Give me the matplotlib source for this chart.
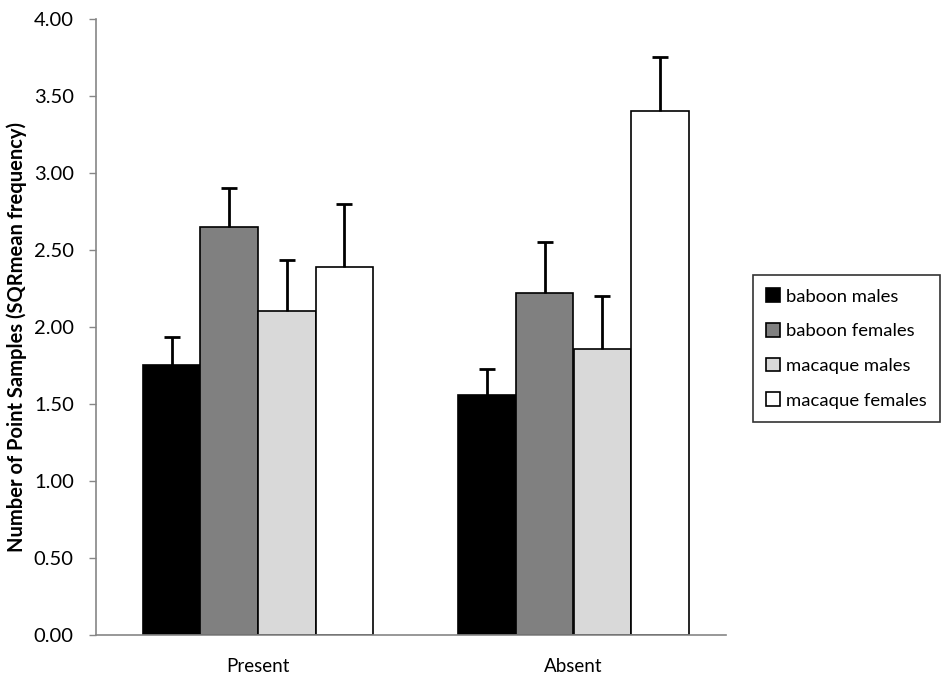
import matplotlib
matplotlib.use("Agg")
import matplotlib.pyplot as plt
import numpy as np

categories = ["Present", "Absent"]
series_names = ["baboon males", "baboon females", "macaque males", "macaque females"]
means = {
    "baboon males":    [1.753, 1.558],
    "baboon females":  [2.647, 2.219],
    "macaque males":   [2.106, 1.857],
    "macaque females": [2.392, 3.403],
}
errors = {
    "baboon males":    [0.183, 0.170],
    "baboon females":  [0.258, 0.331],
    "macaque males":   [0.329, 0.342],
    "macaque females": [0.407, 0.355],
}
colors = ["#000000", "#808080", "#d9d9d9", "#ffffff"]
yticks = [0.0, 0.5, 1.0, 1.5, 2.0, 2.5, 3.0, 3.5, 4.0]

plt.rcParams['font.family'] = ['Lato', 'DejaVu Sans']

fig = plt.figure(figsize=(9.48, 6.86), dpi=100)
ax = fig.add_axes([96/948, 0.075, 630/948, 0.8969])

x = np.arange(len(categories))
bw = 0.1823
for i, name in enumerate(series_names):
    pos = x + (i - 1.5) * bw
    ax.bar(pos, means[name], width=bw, color=colors[i], edgecolor="black",
           linewidth=1.2, label=name, zorder=2)
    eb = ax.errorbar(pos, means[name], yerr=[np.zeros(len(x)), errors[name]],
                     fmt="none", ecolor="black", elinewidth=2, capsize=6,
                     capthick=2, zorder=3)
    eb[1][0].set_visible(False)

ax.set_xlim(-162/315.5, 468/315.5)
ax.set_ylim(0, 4)
ax.set_yticks(yticks)
ax.set_yticklabels([f"{v:.2f}" for v in yticks], fontsize=14.5)
ax.set_xticks(x)
ax.set_xticklabels(categories, fontsize=13.5)
ax.tick_params(axis="x", length=0, pad=17)
ax.tick_params(axis="y", length=5, width=1, color="#868686", pad=11)
for s in ["top", "right"]:
    ax.spines[s].set_visible(False)
for s in ["left", "bottom"]:
    ax.spines[s].set_color("#868686")
    ax.spines[s].set_linewidth(1.2)

fig.text(17/948, 1 - 337/686, "Number of Point Samples (SQRmean frequency)",
         rotation=90, ha="center", va="center", fontsize=14.5, fontweight="bold")

leg = ax.legend(loc="center left", bbox_to_anchor=(753/948, 1 - 348.5/686),
                bbox_transform=fig.transFigure, fontsize=13.3, frameon=True,
                fancybox=False, edgecolor="black", handlelength=0.75,
                handleheight=0.75, handletextpad=0.35, labelspacing=1.0,
                borderpad=0.7, borderaxespad=0)
leg.get_frame().set_linewidth(1.2)

fig.savefig("out.png", dpi=100)
